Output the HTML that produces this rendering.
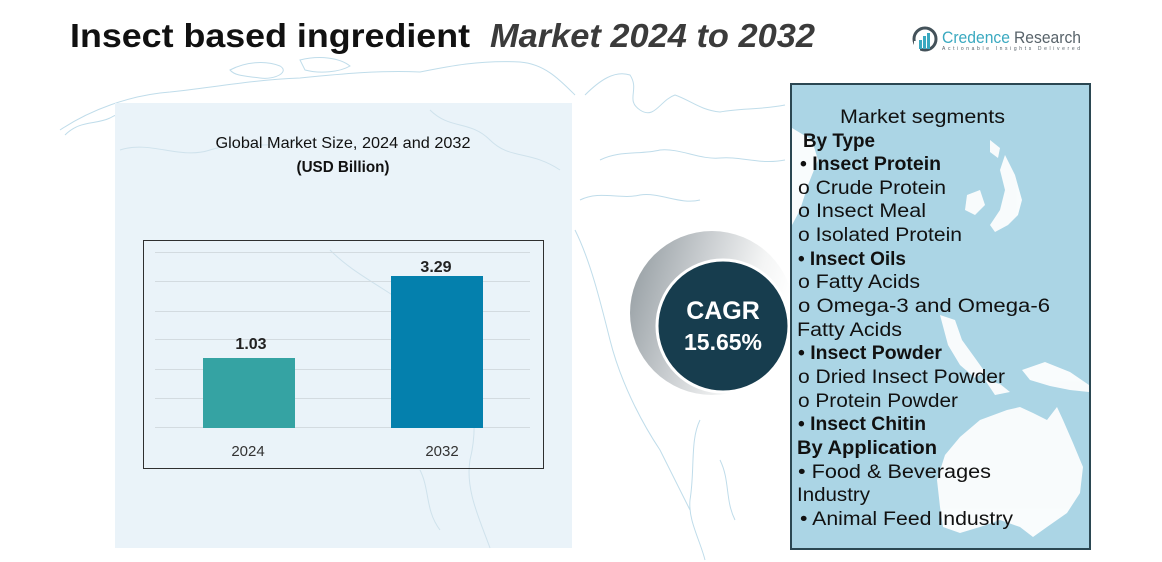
<!DOCTYPE html>
<html>
<head>
<meta charset="utf-8">
<style>
  html,body{margin:0;padding:0;background:#ffffff;}
  body{width:1162px;height:562px;overflow:hidden;}
  svg{display:block;}
  text{font-family:"Liberation Sans", "DejaVu Sans", sans-serif;}
</style>
</head>
<body>
<svg width="1162" height="562" viewBox="0 0 1162 562" xmlns="http://www.w3.org/2000/svg">
  <defs>
    <linearGradient id="cres" x1="0" y1="0" x2="1" y2="0.3">
      <stop offset="0" stop-color="#8f989d"/>
      <stop offset="0.45" stop-color="#c9cdd0"/>
      <stop offset="0.8" stop-color="#f4f5f5"/>
      <stop offset="1" stop-color="#ffffff"/>
    </linearGradient>
  </defs>

  <rect x="0" y="0" width="1162" height="562" fill="#ffffff"/>

  <g fill="none" stroke="#b9d9e8" stroke-width="1" opacity="0.9">
    <path d="M60 130 C90 110 130 95 170 92 C210 88 250 80 300 78 C340 74 380 70 420 72 C450 66 480 60 520 62 C545 64 560 80 575 95"/>
    <path d="M65 135 C80 120 95 125 110 118 C120 112 135 110 150 112"/>
    <path d="M230 70 C245 62 265 60 280 66 C290 72 275 80 260 78 C245 76 235 76 230 70Z"/>
    <path d="M300 60 C320 55 340 58 350 66 C340 72 320 74 305 70Z"/>
    <path d="M585 95 C600 80 615 70 630 75 C640 90 625 100 640 110 C655 120 660 100 675 95 C690 100 700 110 720 112 C740 108 760 110 785 105"/>
    <path d="M600 160 C620 150 640 155 660 150 C680 148 700 160 720 158 C740 156 760 165 785 160"/>
    <path d="M580 200 C600 190 620 200 640 195 C660 192 680 205 700 200"/>
    <path d="M575 230 C590 260 600 300 610 340 C620 380 640 420 660 450 C670 470 680 490 690 510"/>
    <path d="M700 420 C690 440 695 470 690 500 C688 520 700 540 705 560"/>
    <path d="M720 460 C730 480 725 500 735 520"/>
    <path d="M250 540 C240 520 235 500 250 480"/>
  </g>

  <rect x="115" y="103" width="457" height="445" fill="#eaf3f9"/>
  <g fill="none" stroke="#cfe2ec" stroke-width="1">
    <path d="M120 150 C150 140 180 160 210 150 C240 140 270 150 300 140"/>
    <path d="M430 110 C450 130 470 120 490 140 C510 160 530 150 560 170"/>
    <path d="M330 250 C350 270 370 280 400 300 C420 320 440 340 460 360 C470 380 480 420 470 460 C465 490 480 520 490 548"/>
    <path d="M420 470 C430 490 425 510 440 530"/>
  </g>

  <text x="343" y="148" font-size="16" fill="#111" text-anchor="middle" textLength="255" lengthAdjust="spacingAndGlyphs">Global Market Size, 2024 and 2032</text>
  <text x="343" y="172" font-size="16" font-weight="bold" fill="#111" text-anchor="middle" textLength="93" lengthAdjust="spacingAndGlyphs">(USD Billion)</text>

  <rect x="143.5" y="240.5" width="400" height="228" fill="none" stroke="#2f2f2f" stroke-width="1"/>
  <g stroke="#d3dbe0" stroke-width="1">
    <line x1="155" y1="252.5" x2="530" y2="252.5"/>
    <line x1="155" y1="281.5" x2="530" y2="281.5"/>
    <line x1="155" y1="311.5" x2="530" y2="311.5"/>
    <line x1="155" y1="339.5" x2="530" y2="339.5"/>
    <line x1="155" y1="369.5" x2="530" y2="369.5"/>
    <line x1="155" y1="398.5" x2="530" y2="398.5"/>
    <line x1="155" y1="427.5" x2="530" y2="427.5"/>
  </g>
  <rect x="203" y="358" width="92" height="70" fill="#35a3a3"/>
  <rect x="391" y="276" width="92" height="152" fill="#0480ad"/>
  <text x="251" y="349" font-size="16" font-weight="bold" fill="#222" text-anchor="middle">1.03</text>
  <text x="436" y="272" font-size="16" font-weight="bold" fill="#222" text-anchor="middle">3.29</text>
  <text x="248" y="456" font-size="15" fill="#333" text-anchor="middle">2024</text>
  <text x="442" y="456" font-size="15" fill="#333" text-anchor="middle">2032</text>

  <text x="70" y="47" font-size="33" font-weight="bold" fill="#111" textLength="400" lengthAdjust="spacingAndGlyphs">Insect based ingredient</text>
  <text x="490" y="47" font-size="33" font-weight="bold" font-style="italic" fill="#3b3b3b" textLength="325" lengthAdjust="spacingAndGlyphs">Market 2024 to 2032</text>

  <g>
    <circle cx="925" cy="39" r="11" fill="none" stroke="#44525a" stroke-width="3"/>
    <rect x="914" y="41" width="6" height="10" fill="#ffffff"/>
    <rect x="919" y="40" width="3" height="9" fill="#3aa9c0"/>
    <rect x="923" y="36" width="3" height="13" fill="#3aa9c0"/>
    <rect x="927" y="33" width="3" height="16" fill="#3aa9c0"/>
    <text x="942" y="43" font-size="17" fill="#3aa9c0" textLength="68" lengthAdjust="spacingAndGlyphs">Credence</text>
    <text x="1014" y="43" font-size="17" fill="#58636a" textLength="67" lengthAdjust="spacingAndGlyphs">Research</text>
    <text x="942" y="50" font-size="5" fill="#58636a" textLength="138" lengthAdjust="spacing">Actionable Insights Delivered</text>
  </g>

  <circle cx="712" cy="313" r="82" fill="url(#cres)"/>
  <circle cx="723" cy="326" r="66" fill="#173d4e" stroke="#ffffff" stroke-width="3"/>
  <text x="723" y="319" font-size="25" font-weight="bold" fill="#ffffff" text-anchor="middle">CAGR</text>
  <text x="723" y="350" font-size="23" font-weight="bold" fill="#ffffff" text-anchor="middle">15.65%</text>

  <rect x="791" y="84" width="299" height="465" fill="#abd5e5" stroke="#2b4752" stroke-width="2"/>
  <g fill="#ffffff" opacity="0.92">
    <path d="M960 437 L980 420 L1007 410 L1020 407 L1033 413 L1047 420 L1057 407 L1063 420 L1073 443 L1083 467 L1080 493 L1067 513 L1047 527 L1033 537 L1020 527 L1000 520 L980 527 L960 533 L943 527 L940 507 L937 480 L945 455Z"/>
    <path d="M1022 370 L1045 362 L1070 372 L1089 385 L1089 392 L1070 390 L1050 386 L1030 380Z"/>
    <path d="M1005 155 L1015 175 L1022 200 L1018 215 L1008 225 L995 232 L990 225 L1000 210 L1005 190 L1000 170Z"/>
    <path d="M990 140 L1000 148 L998 158 L990 152Z"/>
    <path d="M967 195 L980 190 L985 205 L975 215 L965 210Z"/>
    <path d="M792 128 L812 140 L818 160 L808 185 L800 210 L792 225Z"/>
    <path d="M940 315 L955 320 L962 340 L975 358 L985 372 L975 378 L960 365 L948 345Z"/>
    <path d="M985 380 L1000 384 L1010 392 L995 395Z"/>
  </g>

  <g font-size="19" fill="#111">
    <text x="840" y="123" textLength="165" lengthAdjust="spacingAndGlyphs">Market segments</text>
    <text x="803" y="147" font-weight="bold" textLength="72" lengthAdjust="spacingAndGlyphs">By Type</text>
    <text x="800" y="170" font-weight="bold" textLength="141" lengthAdjust="spacingAndGlyphs">• Insect Protein</text>
    <text x="798" y="194" textLength="148" lengthAdjust="spacingAndGlyphs">o Crude Protein</text>
    <text x="798" y="217" textLength="128" lengthAdjust="spacingAndGlyphs">o Insect Meal</text>
    <text x="798" y="241" textLength="164" lengthAdjust="spacingAndGlyphs">o Isolated Protein</text>
    <text x="798" y="265" font-weight="bold" textLength="108" lengthAdjust="spacingAndGlyphs">• Insect Oils</text>
    <text x="798" y="288" textLength="122" lengthAdjust="spacingAndGlyphs">o Fatty Acids</text>
    <text x="798" y="312" textLength="252" lengthAdjust="spacingAndGlyphs">o Omega-3 and Omega-6</text>
    <text x="797" y="336" textLength="105" lengthAdjust="spacingAndGlyphs">Fatty Acids</text>
    <text x="798" y="359" font-weight="bold" textLength="144" lengthAdjust="spacingAndGlyphs">• Insect Powder</text>
    <text x="798" y="383" textLength="207" lengthAdjust="spacingAndGlyphs">o Dried Insect Powder</text>
    <text x="798" y="407" textLength="160" lengthAdjust="spacingAndGlyphs">o Protein Powder</text>
    <text x="798" y="430" font-weight="bold" textLength="128" lengthAdjust="spacingAndGlyphs">• Insect Chitin</text>
    <text x="797" y="454" font-weight="bold" textLength="140" lengthAdjust="spacingAndGlyphs">By Application</text>
    <text x="798" y="478" textLength="193" lengthAdjust="spacingAndGlyphs">• Food &amp; Beverages</text>
    <text x="797" y="501" textLength="73" lengthAdjust="spacingAndGlyphs">Industry</text>
    <text x="800" y="525" textLength="213" lengthAdjust="spacingAndGlyphs">• Animal Feed Industry</text>
  </g>
</svg>
</body>
</html>
